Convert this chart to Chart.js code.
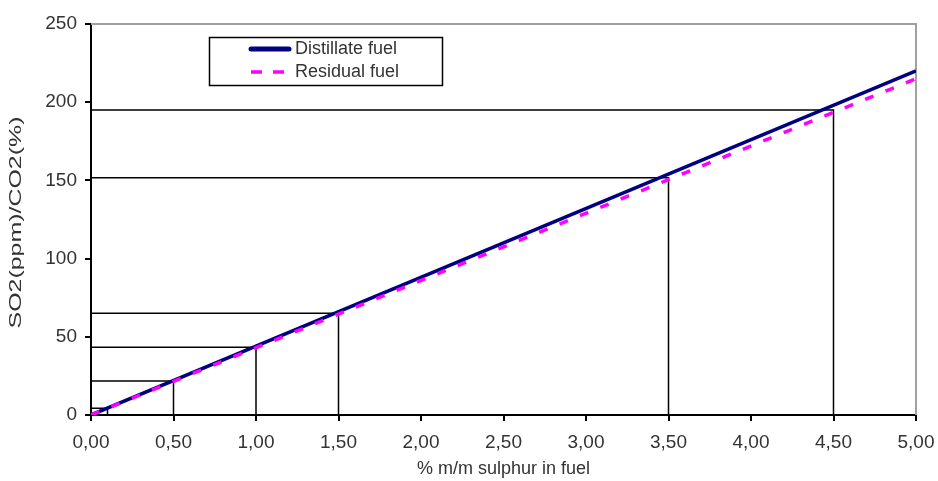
<!DOCTYPE html>
<html>
<head>
<meta charset="utf-8">
<script src="https://cdn.jsdelivr.net/npm/chart.js@4.4.1/dist/chart.umd.min.js"></script>
<style>
  body { margin: 0; background: #fff; }
</style>
</head>
<body>
<canvas id="so2Chart" width="938" height="481"></canvas>
<script>
// values
const sulphurPoints = [0, 5];           // % m/m sulphur in fuel
const distillateRatio = [0, 220];       // SO2(ppm)/CO2(%)
const residualRatio = [0, 215];

// limit lines (sulphur %, ratio)
const limitSulphur = [0.1, 0.5, 1.0, 1.5, 3.5, 4.5];
const limitRatio = [4.3, 21.7, 43.3, 65.0, 151.7, 195.0];

const xTickLabels = ["0,00", "0,50", "1,00", "1,50", "2,00", "2,50", "3,00", "3,50", "4,00", "4,50", "5,00"];
const yTickLabels = ["0", "50", "100", "150", "200", "250"];

const seriesNames = ["Distillate fuel", "Residual fuel"];
const xTitle = "% m/m sulphur in fuel";
const yTitle = "SO2(ppm)/CO2(%)";

const FONT = '"Liberation Sans", Arial, sans-serif';
const TEXT = "#333";

// rotated y title, stretched like the original
const yTitlePlugin = {
  id: "yTitle",
  afterDraw(chart) {
    const { ctx, chartArea } = chart;
    ctx.save();
    ctx.font = "17px " + FONT;
    const w = ctx.measureText(yTitle).width;
    ctx.translate(16, (chartArea.top + chartArea.bottom) / 2 + 3);
    ctx.rotate(-Math.PI / 2);
    ctx.scale(212 / w, 1);
    ctx.fillStyle = TEXT;
    ctx.textAlign = "center";
    ctx.textBaseline = "middle";
    ctx.fillText(yTitle, 0, 0);
    ctx.restore();
  },
};

// gray top + right edge of plot area
const framePlugin = {
  id: "frame",
  beforeDatasetsDraw(chart) {
    const { ctx, chartArea: a } = chart;
    ctx.save();
    ctx.strokeStyle = "#a0a0a0";
    ctx.lineWidth = 2;
    ctx.beginPath();
    ctx.moveTo(a.left, a.top);
    ctx.lineTo(a.right, a.top);
    ctx.lineTo(a.right, a.bottom);
    ctx.stroke();
    ctx.restore();
  },
};

// boxed legend inside plot
const legendBoxPlugin = {
  id: "legendBox",
  afterDraw(chart) {
    const ctx = chart.ctx;
    const x = 209.5, y = 37.5, w = 233, h = 48;
    ctx.save();
    ctx.fillStyle = "#fff";
    ctx.fillRect(x, y, w, h);
    ctx.strokeStyle = "#000";
    ctx.lineWidth = 1.5;
    ctx.strokeRect(x, y, w, h);

    ctx.lineCap = "round";
    ctx.strokeStyle = "#000080";
    ctx.lineWidth = 5;
    ctx.beginPath();
    ctx.moveTo(251, 49);
    ctx.lineTo(289, 49);
    ctx.stroke();

    ctx.lineCap = "butt";
    ctx.strokeStyle = "#ff00ff";
    ctx.lineWidth = 3.5;
    ctx.setLineDash([11, 11]);
    ctx.beginPath();
    ctx.moveTo(251, 72);
    ctx.lineTo(285, 72);
    ctx.stroke();
    ctx.setLineDash([]);

    ctx.fillStyle = TEXT;
    ctx.font = "18px " + FONT;
    ctx.textBaseline = "middle";
    ctx.fillText(seriesNames[0], 295, 49);
    ctx.fillText(seriesNames[1], 295, 72);
    ctx.restore();
  },
};

const limitSets = limitSulphur.map((s, i) => ({
  label: "limit " + s,
  data: [
    { x: 0, y: limitRatio[i] },
    { x: s, y: limitRatio[i] },
    { x: s, y: 0 },
  ],
  borderColor: "#000",
  borderWidth: 1.5,
  pointRadius: 0,
  order: 3,
}));

new Chart(document.getElementById("so2Chart"), {
  type: "line",
  data: {
    datasets: [
      ...limitSets,
      {
        label: seriesNames[0],
        data: sulphurPoints.map((x, i) => ({ x, y: distillateRatio[i] })),
        borderColor: "#000080",
        borderWidth: 3.5,
        pointRadius: 0,
        order: 2,
      },
      {
        label: seriesNames[1],
        data: sulphurPoints.map((x, i) => ({ x, y: residualRatio[i] })),
        borderColor: "#ff00ff",
        borderWidth: 3.5,
        borderDash: [9, 13],
        pointRadius: 0,
        order: 1,
      },
    ],
  },
  options: {
    responsive: false,
    animation: false,
    devicePixelRatio: 1,
    layout: { padding: { top: 24, right: 22, left: 0, bottom: 0 } },
    plugins: { legend: { display: false }, tooltip: { enabled: false } },
    scales: {
      x: {
        type: "linear",
        min: 0,
        max: 5,
        afterFit: (s) => {
          s.height = 66;
          s.paddingLeft = 0;
          s.paddingRight = 0;
        },
        ticks: {
          stepSize: 0.5,
          autoSkip: false,
          maxRotation: 0,
          padding: 10,
          color: TEXT,
          font: { family: FONT, size: 19 },
          callback: (v, i) => xTickLabels[i],
        },
        grid: { drawOnChartArea: false, drawTicks: true, tickLength: 6, color: "#000", lineWidth: 2 },
        border: { display: true, color: "#000", width: 2 },
        title: { display: true, text: xTitle, color: TEXT, font: { family: FONT, size: 18 }, padding: { top: 0, bottom: 1 } },
      },
      y: {
        min: 0,
        max: 250,
        afterFit: (s) => {
          s.width = 91;
          s.paddingTop = 0;
          s.paddingBottom = 0;
        },
        ticks: {
          stepSize: 50,
          padding: 8,
          color: TEXT,
          font: { family: FONT, size: 19 },
          callback: (v, i) => yTickLabels[i],
        },
        grid: { drawOnChartArea: false, drawTicks: true, tickLength: 6, color: "#000", lineWidth: 2 },
        border: { display: true, color: "#000", width: 2 },
      },
    },
  },
  plugins: [framePlugin, legendBoxPlugin, yTitlePlugin],
});
</script>
</body>
</html>
